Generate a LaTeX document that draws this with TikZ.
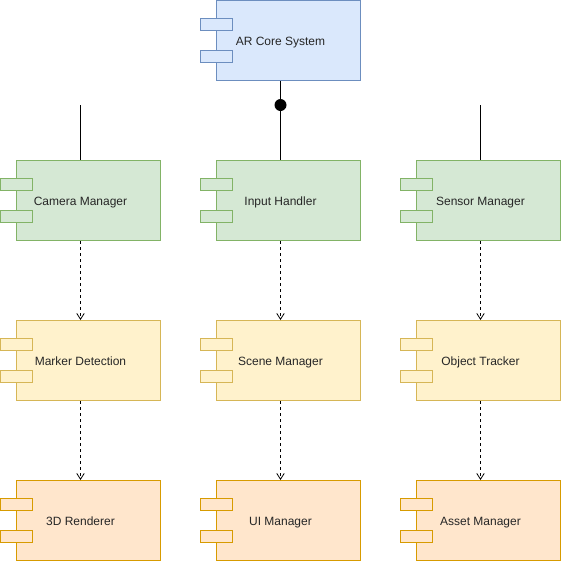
\documentclass[tikz,border=0pt]{standalone}
\usepackage{fontspec}
\setmainfont{Liberation Sans}
\usetikzlibrary{arrows.meta}
\definecolor{coreF}{HTML}{DAE8FC}
\definecolor{coreD}{HTML}{6C8EBF}
\definecolor{inF}{HTML}{D5E8D4}
\definecolor{inD}{HTML}{82B366}
\definecolor{midF}{HTML}{FFF2CC}
\definecolor{midD}{HTML}{D6B656}
\definecolor{outF}{HTML}{FFE6CC}
\definecolor{outD}{HTML}{D79B00}
\tikzset{
  core/.style={fill=coreF,draw=coreD},
  input/.style={fill=inF,draw=inD},
  middle/.style={fill=midF,draw=midD},
  output/.style={fill=outF,draw=outD},
  comptext/.style={minimum width=120pt,minimum height=60pt,inner sep=0pt,text height=8.4pt,text depth=1.6pt,font=\fontsize{9pt}{11pt}\selectfont,text=black!85},
  uses/.style={dash pattern=on 2.25pt off 2.25pt,-{Straight Barb[length=4.4pt,width=5.6pt,line width=.6pt]}}
}
% body and two tabs, label centred on the whole width
\newcommand{\comp}[5]{%
  \begin{scope}[shift={(#3,#4)}]
    \path[#1,line width=.75pt] (-64,-40) rectangle (80,40);
    \path[#1,line width=.75pt] (-80,-22) rectangle (-48,-10);
    \path[#1,line width=.75pt] (-80,10) rectangle (-48,22);
    \node[comptext] (#2) at (0,0) {#5};
  \end{scope}}

\begin{document}
\begin{tikzpicture}[x=.75pt,y=-.75pt,line width=.75pt]
\useasboundingbox (0,0) rectangle (561,561);
% top
\comp{core}{arcore}{280.5}{40.5}{AR Core System}
% first row
\comp{input}{camera}{80.5}{200.5}{Camera Manager}
\comp{input}{inputh}{280.5}{200.5}{Input Handler}
\comp{input}{sensor}{480.5}{200.5}{Sensor Manager}
% second row
\comp{middle}{marker}{80.5}{360.5}{Marker Detection}
\comp{middle}{scene}{280.5}{360.5}{Scene Manager}
\comp{middle}{tracker}{480.5}{360.5}{Object Tracker}
% third row
\comp{output}{renderer}{80.5}{520.5}{3D Renderer}
\comp{output}{uiman}{280.5}{520.5}{UI Manager}
\comp{output}{asset}{480.5}{520.5}{Asset Manager}
% solid lines
\coordinate (campin) at (80.5,105);
\coordinate (senpin) at (480.5,105);
\coordinate (dot) at (280.5,105);
\draw (arcore) -- (inputh);
\draw (campin) -- (camera);
\draw (senpin) -- (sensor);
\fill (dot) circle (6);
% dashed dependencies
\foreach \a/\b in {camera/marker,inputh/scene,sensor/tracker,marker/renderer,scene/uiman,tracker/asset}
  \draw[uses] (\a) -- (\b);
\end{tikzpicture}
\end{document}
